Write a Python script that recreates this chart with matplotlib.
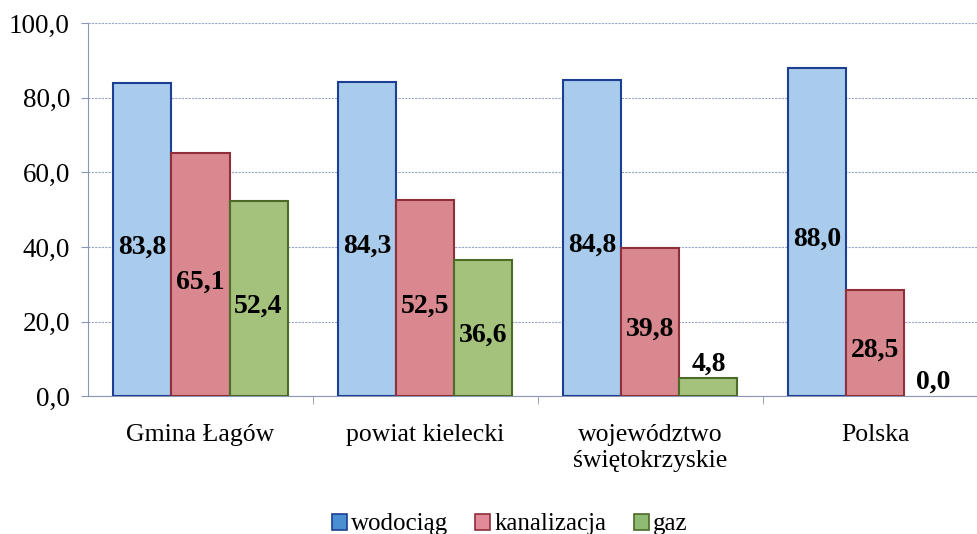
import matplotlib.pyplot as plt
from matplotlib.patches import Patch
import numpy as np

categories = ["Gmina Łagów", "powiat kielecki", "województwo\nświętokrzyskie", "Polska"]
series_names = ["wodociąg", "kanalizacja", "gaz"]
wodociag = [83.8, 84.3, 84.8, 88.0]
kanalizacja = [65.1, 52.5, 39.8, 28.5]
gaz = [52.4, 36.6, 4.8, 0.0]

faces = ["#a9cbec", "#d9888f", "#a5c27c"]
edges = ["#1c3f94", "#8e2f3a", "#4b6b26"]
legend_faces = ["#4a8fd2", "#e28a9a", "#8fbb72"]

plt.rcParams["font.family"] = ["Liberation Serif", "DejaVu Serif"]

fig = plt.figure(figsize=(9.78, 5.34), dpi=100)
ax = fig.add_axes([0.09, 0.258, 0.92, 0.699])

x = np.arange(len(categories))
w = 0.258
for i, vals in enumerate([wodociag, kanalizacja, gaz]):
    pos = x + (i - 1) * w
    lw = [1.5 if v > 0 else 0 for v in vals]
    ax.bar(pos, vals, w, color=faces[i], edgecolor=edges[i], linewidth=lw, zorder=3)
    for p, v in zip(pos, vals):
        txt = f"{v:.1f}".replace(".", ",")
        if v < 10:
            ax.text(p, v + 3.8, txt, ha="center", va="center", fontsize=20,
                    fontweight="bold", zorder=4)
        else:
            ax.text(p, v / 2 - 2, txt, ha="center", va="center", fontsize=20,
                    fontweight="bold", zorder=4)

ax.set_xlim(-0.5, len(categories) - 0.5)
ax.set_ylim(0, 100)
ax.set_yticks(np.arange(0, 101, 20))
ax.set_yticklabels([f"{t:.1f}".replace(".", ",") for t in np.arange(0, 101, 20)],
                   fontsize=19.5)
ax.yaxis.grid(True, color="#9aa6c4", linestyle=(0, (2, 1)), linewidth=0.8, zorder=0)
ax.set_xticks(x)
ax.set_xticklabels(categories, fontsize=18.5, linespacing=1.25)
ax.tick_params(axis="x", length=0, pad=20)
ax.tick_params(axis="y", length=5, color="#8a96b4", pad=8)
ax.set_xticks(np.arange(0.5, len(categories) - 0.5, 1), minor=True)
ax.tick_params(axis="x", which="minor", length=6, color="#8a96b4")

for s in ["top", "right"]:
    ax.spines[s].set_visible(False)
ax.spines["left"].set_color("#8a96b4")
ax.spines["bottom"].set_color("#8a96b4")

handles = [Patch(facecolor=legend_faces[i], edgecolor=edges[i], linewidth=1.2,
                 label=series_names[i]) for i in range(3)]
fig.legend(handles=handles, loc="center", bbox_to_anchor=(0.521, 0.018), ncol=3,
           frameon=False, fontsize=18, handlelength=0.6, handleheight=0.6,
           handletextpad=0.15, columnspacing=1.1)

fig.savefig("out.png", dpi=100)
